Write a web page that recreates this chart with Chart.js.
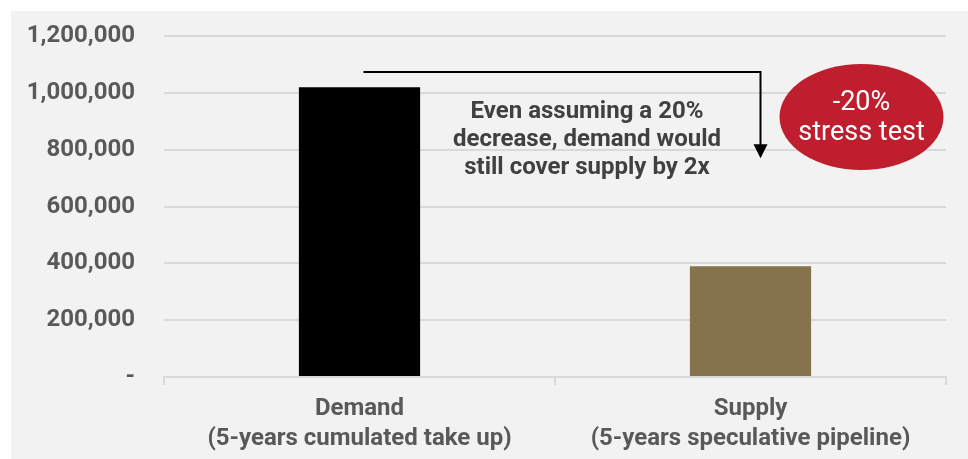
<!DOCTYPE html>
<html lang="en">
  <head>
    <meta charset="UTF-8" />
    <title>Demand vs Supply</title>
    <script src="https://cdn.jsdelivr.net/npm/chart.js"></script>
    <style>
      body {
        margin: 0;
        background: #ffffff;
        font-family: Roboto, Arial, sans-serif;
      }
      .chart-box {
        position: absolute;
        left: 11px;
        top: 11px;
        width: 957px;
        height: 448px;
        background: #f2f2f2;
      }
    </style>
  </head>
  <body>
    <div class="chart-box">
      <canvas id="barChart"></canvas>
    </div>

    <script>
      // data
      const categories = [
        ["Demand", "(5-years cumulated take up)"],
        ["Supply", "(5-years speculative pipeline)"],
      ];
      const values = [1020000, 390000];
      const barColors = ["#000000", "#85734d"];
      const yTicks = [0, 200000, 400000, 600000, 800000, 1000000, 1200000];

      const noteLines = [
        "Even assuming a 20%",
        "decrease, demand would",
        "still cover supply by 2x",
      ];
      const badgeLines = ["-20%", "stress test"];
      // arrow runs from demand level down toward supply (value units)
      const arrowFrom = 1073000;
      const arrowTo = 770000;

      const annotations = {
        id: "annotations",
        afterDatasetsDraw(chart) {
          const ctx = chart.ctx;
          const x = chart.scales.x;
          const y = chart.scales.y;
          ctx.save();

          // arrow
          const x0 = x.getPixelForValue(0) + 4;
          const x1 = x.getPixelForValue(1) + 10;
          const yTop = y.getPixelForValue(arrowFrom);
          const yTip = y.getPixelForValue(arrowTo);
          ctx.strokeStyle = "#000";
          ctx.lineWidth = 2;
          ctx.beginPath();
          ctx.moveTo(x0, yTop);
          ctx.lineTo(x1, yTop);
          ctx.lineTo(x1, yTip - 12);
          ctx.stroke();
          ctx.fillStyle = "#000";
          ctx.beginPath();
          ctx.moveTo(x1 - 7, yTip - 14);
          ctx.lineTo(x1 + 7, yTip - 14);
          ctx.lineTo(x1, yTip);
          ctx.closePath();
          ctx.fill();

          // note text
          const cx = (x.getPixelForValue(0) + x.getPixelForValue(1)) / 2 + 32;
          ctx.fillStyle = "#404040";
          ctx.font = "bold 24px Roboto";
          ctx.textAlign = "center";
          ctx.textBaseline = "middle";
          noteLines.forEach((t, i) => {
            ctx.fillText(t, cx, y.getPixelForValue(1000000) + 19 + i * 28);
          });

          // red badge
          const bx = x.getPixelForValue(1) + 111;
          const by = y.getPixelForValue(915000);
          ctx.fillStyle = "#be1e2d";
          ctx.beginPath();
          ctx.ellipse(bx, by, 82, 53, 0, 0, Math.PI * 2);
          ctx.fill();
          ctx.fillStyle = "#ffffff";
          ctx.font = "27px Roboto";
          badgeLines.forEach((t, i) => {
            ctx.fillText(t, bx, by - 14 + i * 30);
          });
          ctx.restore();
        },
      };

      new Chart(document.getElementById("barChart"), {
        type: "bar",
        data: {
          labels: categories,
          datasets: [
            {
              data: values,
              backgroundColor: barColors,
              barPercentage: 0.31,
              categoryPercentage: 1,
            },
          ],
        },
        options: {
          responsive: true,
          maintainAspectRatio: false,
          animation: false,
          layout: { padding: { top: 25, right: 22, left: 0, bottom: 0 } },
          plugins: { legend: { display: false }, tooltip: { enabled: false } },
          scales: {
            x: {
              afterFit: (s) => {
                s.height = 82;
              },
              grid: {
                offset: true,
                drawOnChartArea: false,
                color: "#d9d9d9",
                lineWidth: 2,
                tickLength: 8,
              },
              border: { display: true, color: "#d9d9d9", width: 2 },
              ticks: {
                color: "#595959",
                font: { family: "Roboto", size: 24, weight: "bold", lineHeight: 1.25 },
                padding: 9,
              },
            },
            y: {
              min: 0,
              max: 1200000,
              afterBuildTicks: (s) => {
                s.ticks = yTicks.map((v) => ({ value: v }));
              },
              afterFit: (s) => {
                s.width = 153;
                s.paddingTop = 0;
                s.paddingBottom = 0;
              },
              grid: { color: "#d9d9d9", lineWidth: 2, drawTicks: false },
              border: { display: false },
              ticks: {
                color: "#595959",
                font: { family: "Roboto", size: 24, weight: "bold" },
                padding: 29,
                callback: (v) => (v === 0 ? "-" : v.toLocaleString("en-US")),
              },
            },
          },
        },
        plugins: [annotations],
      });
    </script>
  </body>
</html>
